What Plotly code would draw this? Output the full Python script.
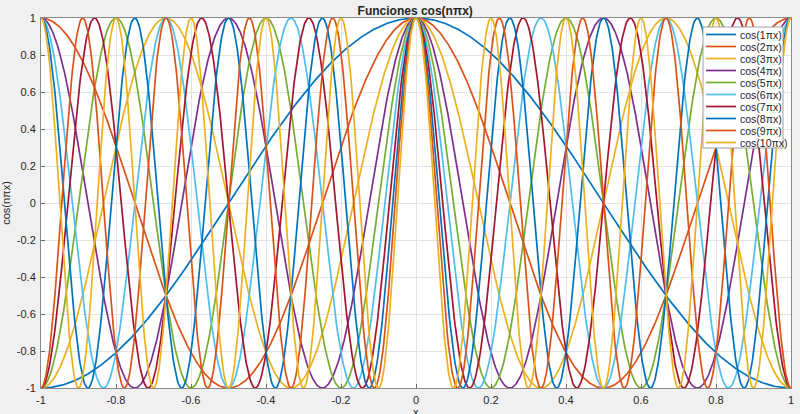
"""Funciones cos(n*pi*x) para n = 1..10."""
import numpy as np
import plotly.graph_objects as go

harmonics = [1, 2, 3, 4, 5, 6, 7, 8, 9, 10]
x_start, x_end, n_samples = -1.0, 1.0, 1001
tick_vals = [-1, -0.8, -0.6, -0.4, -0.2, 0, 0.2, 0.4, 0.6, 0.8, 1]
tick_text = ["-1", "-0.8", "-0.6", "-0.4", "-0.2", "0", "0.2", "0.4", "0.6", "0.8", "1"]

colors = ["#0072BD", "#D95319", "#EDB120", "#7E2F8E", "#77AC30",
          "#4DBEEE", "#A2142F"]

font = "Liberation Sans, Arial, sans-serif"
text_color = "#262626"

axis_settings = {
    "tickvals": tick_vals,
    "ticktext": tick_text,
    "range": [-1, 1],
    "automargin": False,
    "ticklabeloverflow": "allow",
    "showgrid": True,
    "gridcolor": "#e3e3e3",
    "gridwidth": 1,
    "zeroline": False,
    "showline": True,
    "linecolor": "#8a8a8a",
    "linewidth": 1,
    "mirror": True,
    "ticks": "inside",
    "ticklen": 4,
    "tickcolor": "#6a6a6a",
    "ticklabelstandoff": 2,
    "tickfont": {"size": 11, "family": font, "color": text_color},
}

x = np.linspace(x_start, x_end, n_samples)

fig = go.Figure()
for i, n in enumerate(harmonics):
    fig.add_trace(
        go.Scatter(
            x=x,
            y=np.cos(n * np.pi * x),
            mode="lines",
            name=f"cos({n}πx)",
            line={"color": colors[i % len(colors)], "width": 1.7},
            showlegend=False,
        )
    )

# MATLAB-style compact legend box (paper coordinates)
W, H = 800, 414
L, R, T, B = 41, 9, 18, 26
pw, ph = W - L - R, H - T - B


def px2paper(px_x, px_y):
    return (px_x - L) / pw, 1 - (px_y - T) / ph


bx0, by0 = px2paper(703, 27)
bx1, by1 = px2paper(783, 148)
fig.add_shape(type="rect", xref="paper", yref="paper", x0=bx0, y0=by1, x1=bx1, y1=by0,
              fillcolor="white", line={"color": "#a0a0a0", "width": 1}, layer="above")
for i, n in enumerate(harmonics):
    row_y = 34.5 + 12 * i
    lx0, ly = px2paper(706, row_y)
    lx1, _ = px2paper(736, row_y)
    tx, _ = px2paper(738, row_y)
    fig.add_shape(type="line", xref="paper", yref="paper", x0=lx0, x1=lx1, y0=ly, y1=ly,
                  line={"color": colors[i % len(colors)], "width": 1.7}, layer="above")
    fig.add_annotation(xref="paper", yref="paper", x=tx, y=ly, text=f"cos({n}πx)",
                       showarrow=False, xanchor="left", yanchor="middle",
                       font={"size": 10.5, "family": font, "color": text_color})

# x-axis label sits at the very bottom edge, as in the original
fig.add_annotation(xref="paper", yref="paper", x=0.5, y=0, yshift=-16,
                   text="x", showarrow=False, xanchor="center", yanchor="top",
                   font={"size": 11, "family": font, "color": text_color})

fig.update_layout(
    width=W,
    height=H,
    paper_bgcolor="#f0f0f0",
    plot_bgcolor="white",
    margin={"l": L, "r": R, "t": T, "b": B},
    title={
        "text": "<b>Funciones cos(nπx)</b>",
        "x": 0.519,
        "xanchor": "center",
        "y": 0.975,
        "yanchor": "middle",
        "font": {"size": 12, "family": font, "color": text_color},
    },
    xaxis=axis_settings,
    yaxis={**axis_settings,
           "title": {"text": "cos(nπx)", "standoff": 4,
                     "font": {"size": 11, "family": font, "color": text_color}}},
    showlegend=False,
)

fig.write_html("out.html", config={"displayModeBar": False},
               post_script="document.body.style.margin='0';")
